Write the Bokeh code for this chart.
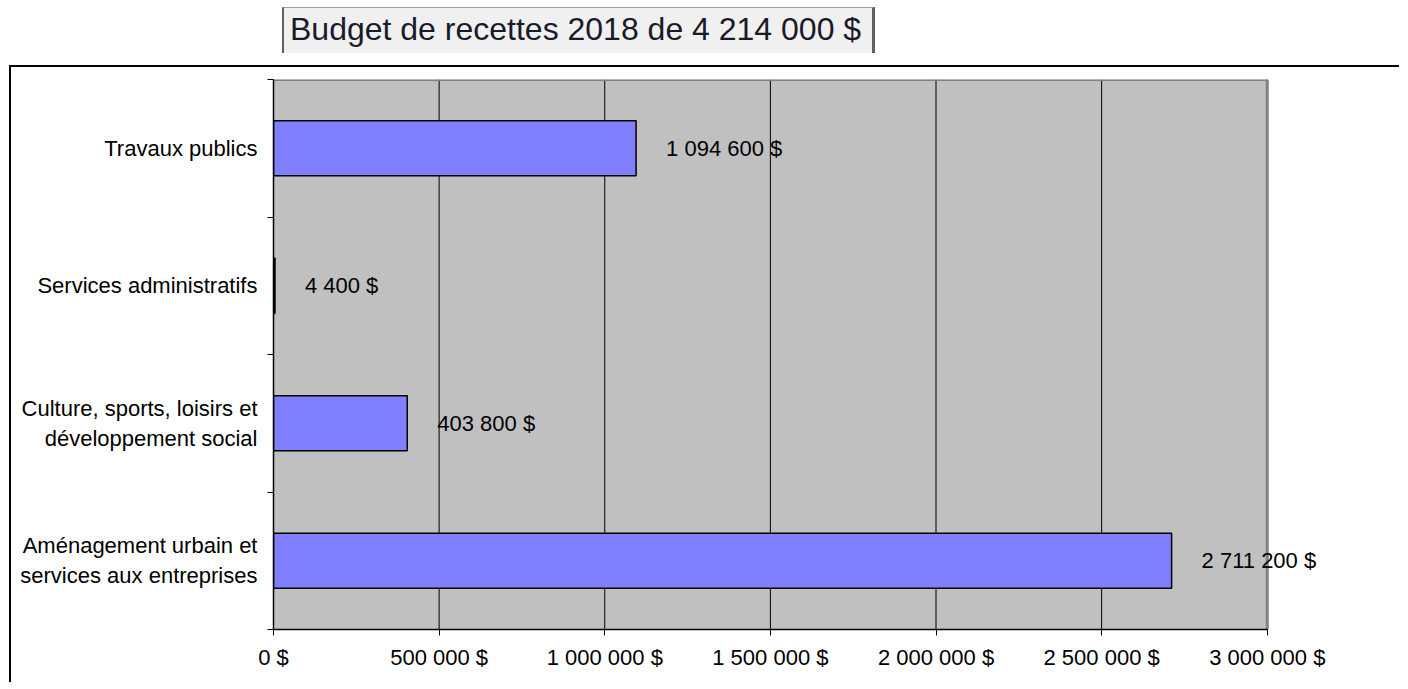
from bokeh.plotting import figure
from bokeh.models import ColumnDataSource, Range1d, FixedTicker, Div
from bokeh.layouts import column
from bokeh.core.properties import value
from bokeh.embed import file_html
from bokeh.resources import INLINE

# ---- data ----
title_text = "Budget de recettes 2018 de 4 214 000 $"
categories = [
    "Aménagement urbain et\nservices aux entreprises",
    "Culture, sports, loisirs et\ndéveloppement social",
    "Services administratifs",
    "Travaux publics",
]
amounts = [2711200, 403800, 4400, 1094600]
amount_labels = ["2 711 200 $", "403 800 $", "4 400 $", "1 094 600 $"]
x_ticks = [0, 500000, 1000000, 1500000, 2000000, 2500000, 3000000]
x_tick_labels = ["0 $", "500 000 $", "1 000 000 $", "1 500 000 $",
                 "2 000 000 $", "2 500 000 $", "3 000 000 $"]

FONT = "Liberation Sans"

n = len(categories)
x_max = x_ticks[-1]
centers = [i + 0.5 for i in range(n)]
bounds = [i for i in range(n + 1)]

# plot area of 992 px for the value axis, frame widened so labels can spill right
PLOT_W = 992
FRAME_W = 1122

src = ColumnDataSource(dict(y=centers, amount=amounts, label=amount_labels))

p = figure(
    output_backend="svg", toolbar_location=None,
    x_range=Range1d(0, x_max * FRAME_W / PLOT_W), y_range=Range1d(0, n),
    frame_width=FRAME_W, frame_height=548,
    min_border_left=262, min_border_right=4, min_border_top=12, min_border_bottom=55,
    tools="",
)
p.styles = {"border-left": "2px solid black", "border-top": "2px solid black",
            "margin-left": "9px"}
p.background_fill_color = "white"
p.border_fill_color = "white"
p.outline_line_color = None

# grey plot area
p.quad(left=[0], right=[x_max], bottom=[0], top=[n],
       fill_color="#c0c0c0", line_color=None)
# vertical grid lines
p.segment(x0=x_ticks, y0=[0] * len(x_ticks), x1=x_ticks, y1=[n] * len(x_ticks),
          line_color="black", line_width=1)
# plot-area border (top & right)
p.segment(x0=[0, x_max], y0=[n, 0], x1=[x_max, x_max], y1=[n, n],
          line_color="#808080", line_width=3)

p.hbar(y="y", right="amount", left=0, height=0.4, source=src,
       fill_color="#8080ff", line_color="black", line_width=1.5)

p.text(x="amount", y="y", text="label", source=src, x_offset=30,
       text_align="left", text_baseline="middle",
       text_font=value(FONT), text_font_size="22px", text_color="black")

# x axis
xa = p.xaxis[0]
xa.bounds = (0, x_max)
xa.ticker = FixedTicker(ticks=x_ticks, minor_ticks=[])
xa.major_label_overrides = {t: l for t, l in zip(x_ticks, x_tick_labels)}
xa.major_label_text_font = FONT
xa.major_label_text_font_size = "22px"
xa.major_label_text_color = "black"
xa.axis_line_color = "black"
xa.axis_line_width = 1.5
xa.major_tick_in = 0
xa.major_tick_out = 6
xa.major_tick_line_color = "black"
xa.minor_tick_line_color = None
xa.major_label_standoff = 9

# y axis
ya = p.yaxis[0]
ya.ticker = FixedTicker(ticks=centers, minor_ticks=bounds)
ya.major_label_overrides = {c: l for c, l in zip(centers, categories)}
ya.major_label_text_font = FONT
ya.major_label_text_font_size = "22px"
ya.major_label_text_color = "black"
ya.axis_line_color = "black"
ya.axis_line_width = 1.5
ya.major_tick_line_color = None
ya.major_tick_in = 0
ya.major_tick_out = 0
ya.minor_tick_in = 0
ya.minor_tick_out = 6
ya.minor_tick_line_color = "black"
ya.major_label_standoff = 10

p.xgrid.grid_line_color = None
p.ygrid.grid_line_color = None

title = Div(
    text=(
        '<div style="margin-left:277px; margin-top:2px; width:593px; height:46px;'
        ' background:#f0f0f0; border-left:2px solid #606060; border-right:3px solid #606060;'
        ' border-top:1px solid #a0a0a0; padding-left:6px; box-sizing:border-box;'
        ' font-family:\'Liberation Sans\'; font-size:32px;'
        ' line-height:43px; color:#1a1a2a; white-space:nowrap;">'
        + title_text + '</div>'
    ),
    width=1400, height=55,
)

layout = column(title, p, spacing=0)

open("out.html", "w").write(file_html(layout, INLINE))
